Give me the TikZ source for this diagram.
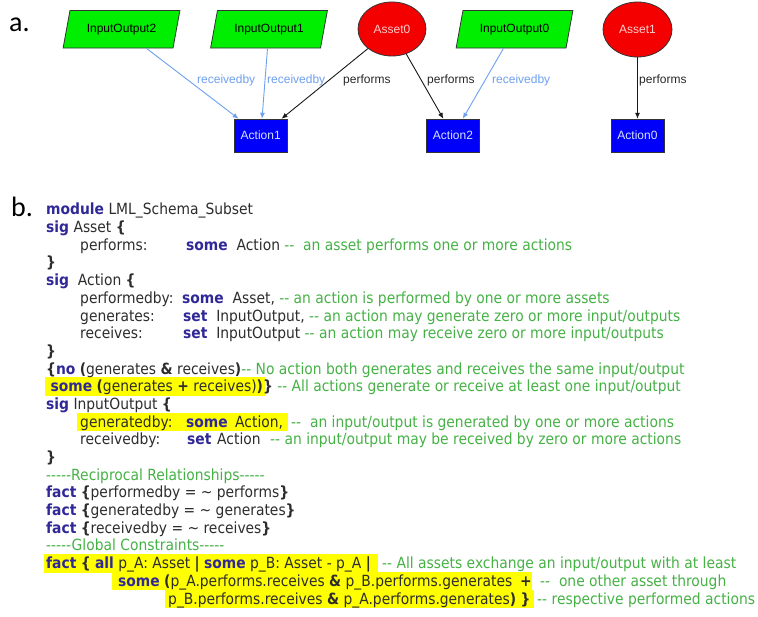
\documentclass[tikz,border=0pt]{standalone}
\usepackage{fontspec}
\setmainfont{DejaVu Sans}
\newfontfamily\codefont{DejaVu Sans}[FakeStretch=0.9]
\newfontfamily\graphfont{Liberation Sans}
\newfontfamily\labfont{Carlito}
\usetikzlibrary{shapes.geometric,arrows.meta}
\definecolor{kwc}{RGB}{48,40,150}
\definecolor{cmc}{RGB}{70,178,70}
\definecolor{idc}{RGB}{45,45,45}
\definecolor{hlc}{RGB}{255,255,0}
\definecolor{gfill}{RGB}{0,238,0}
\definecolor{rfill}{RGB}{245,0,0}
\definecolor{bfill}{RGB}{0,0,250}
\definecolor{recvc}{RGB}{110,160,240}
\definecolor{perfc}{RGB}{25,25,25}
\newcommand\kwd[1]{{\bfseries\color{kwc}#1}}
\newcommand\cmt[1]{{\color{cmc}#1}}
\newcommand\bsym[1]{{\bfseries #1}}
\tikzset{
  code/.style={anchor=base west, inner sep=0pt, text=idc, font=\codefont\fontsize{15.4pt}{17.7pt}\selectfont},
  hlbox/.style={fill=hlc, draw=none},
  iobox/.style={trapezium, trapezium left angle=67, trapezium right angle=113, trapezium stretches=true,
    minimum width=117pt, minimum height=37.5pt, inner sep=0pt, fill=gfill, draw=black!80, line width=0.8pt,
    font=\graphfont\fontsize{12pt}{14pt}\selectfont, text=black},
  assetbox/.style={ellipse, minimum width=68pt, minimum height=54pt, inner sep=0pt, fill=rfill, draw=black!80,
    line width=0.8pt, font=\graphfont\fontsize{12pt}{14pt}\selectfont, text={rgb,255:red,255;green,205;blue,205}},
  actbox/.style={rectangle, minimum width=53pt, minimum height=33pt, inner sep=0pt, fill=bfill, draw=black!80,
    line width=0.8pt, font=\graphfont\fontsize{12pt}{14pt}\selectfont, text={rgb,255:red,215;green,225;blue,255}},
  recv/.style={draw=recvc, line width=0.9pt, -{Latex[length=6pt,width=5pt]}},
  perf/.style={draw=perfc, line width=0.9pt, -{Latex[length=6pt,width=5pt]}},
  rlbl/.style={anchor=west, inner sep=0pt, text=recvc, font=\graphfont\fontsize{12pt}{14pt}\selectfont},
  plbl/.style={anchor=west, inner sep=0pt, text={rgb,255:red,40;green,40;blue,40}, font=\graphfont\fontsize{12pt}{14pt}\selectfont},
  partlbl/.style={anchor=base west, inner sep=0pt, font=\labfont\fontsize{28pt}{30pt}\selectfont}
}
\begin{document}
\begin{tikzpicture}[x=1pt,y=-1pt]
\useasboundingbox (0,0) rectangle (758,617);
\fill[white] (0,0) rectangle (758,617);
% ---------- part a ----------
\node[partlbl] (pa) at (9,32) {a.};
\node[iobox] (io2) at (121.5,29.3) {InputOutput2};
\node[iobox] (io1) at (269,29.3) {InputOutput1};
\node[assetbox] (as0) at (392,29) {Asset0};
\node[iobox] (io0) at (514.5,29.3) {InputOutput0};
\node[assetbox, minimum width=69pt, minimum height=55pt] (as1) at (637.5,29.5) {Asset1};
\node[actbox] (a1) at (260.7,135.7) {Action1};
\node[actbox] (a2) at (453,135.7) {Action2};
\node[actbox] (a0) at (637.5,135.7) {Action0};
\draw[recv] (io2) -- (a1);
\draw[recv] (io1) -- (a1);
\draw[perf] (as0) -- (a1);
\draw[perf] (as0) -- (a2);
\draw[recv] (io0) -- (a2);
\draw[perf] (as1) -- (a0);
\node[rlbl] (l1) at (197,80) {receivedby};
\node[rlbl] (l2) at (267,80) {receivedby};
\node[plbl] (l3) at (343,80) {performs};
\node[plbl] (l4) at (427,80) {performs};
\node[rlbl] (l5) at (492,80) {receivedby};
\node[plbl] (l6) at (639,80) {performs};
% ---------- part b ----------
\node[partlbl] (pb) at (11,217) {b.};
% highlights
\fill[hlbox] (45,377.3) rectangle (265,395.8);
\fill[hlbox] (77,412.7) rectangle (288,431.2);
\fill[hlbox] (44,554.1) rectangle (378,572.6);
\fill[hlbox] (112,571.8) rectangle (532,590.3);
\fill[hlbox] (165,589.5) rectangle (534,608.0);
% code lines
\node[code] (c0) at (46,215.0) {\kwd{module} LML\_Schema\_Subset};
\node[code] (c1) at (46,232.7) {\kwd{sig} Asset \bsym{\{}};
\node[code] (c2a) at (80,250.4) {performs:};
\node[code] (c2b) at (186,250.4) {\kwd{some}\ \ Action \cmt{--\ \ an asset performs one or more actions}};
\node[code] (c3) at (46,268.0) {\bsym{\}}};
\node[code] (c4) at (46,285.7) {\kwd{sig}\ \ Action \bsym{\{}};
\node[code] (c5a) at (80,303.4) {performedby:};
\node[code] (c5b) at (182,303.4) {\kwd{some}\ \ Asset, \cmt{-- an action is performed by one or more assets}};
\node[code] (c6a) at (80,321.1) {generates:};
\node[code] (c6b) at (183,321.1) {\kwd{set}\ \ InputOutput, \cmt{-- an action may generate zero or more input/outputs}};
\node[code] (c7a) at (80,338.8) {receives:};
\node[code] (c7b) at (183,338.8) {\kwd{set}\ \ InputOutput \cmt{-- an action may receive zero or more input/outputs}};
\node[code] (c8) at (46,356.4) {\bsym{\}}};
\node[code] (c9) at (46,374.1) {\bsym{\{}\kwd{no} \bsym{(}generates \bsym{\&} receives\bsym{)}\cmt{-- No action both generates and receives the same input/output}};
\node[code] (c10) at (46,391.8) {\ \kwd{some} \bsym{(}generates \bsym{+} receives)\bsym{)}\bsym{\}} \cmt{-- All actions generate or receive at least one input/output}};
\node[code] (c11) at (46,409.5) {\kwd{sig} InputOutput \bsym{\{}};
\node[code] (c12a) at (80,427.2) {generatedby:};
\node[code] (c12b) at (186,427.2) {\kwd{some}};
\node[code] (c12d) at (235,427.2) {Action,};
\node[code] (c12c) at (291,427.2) {\cmt{--\ \ an input/output is generated by one or more actions}};
\node[code] (c13a) at (80,444.8) {receivedby:};
\node[code] (c13b) at (187,444.8) {\kwd{set}};
\node[code] (c13d) at (217,444.8) {Action};
\node[code] (c13c) at (270,444.8) {\cmt{-- an input/output may be received by zero or more actions}};
\node[code] (c14) at (46,462.5) {\bsym{\}}};
\node[code] (c15) at (46,480.2) {\cmt{-----Reciprocal Relationships-----}};
\node[code] (c16) at (46,497.9) {\kwd{fact} \bsym{\{}performedby = \textasciitilde\ performs\bsym{\}}};
\node[code] (c17) at (46,515.6) {\kwd{fact} \bsym{\{}generatedby = \textasciitilde\ generates\bsym{\}}};
\node[code] (c18) at (46,533.2) {\kwd{fact} \bsym{\{}receivedby = \textasciitilde\ receives\bsym{\}}};
\node[code] (c19) at (46,550.9) {\cmt{-----Global Constraints-----}};
\node[code] (c20a) at (46,568.6) {\kwd{fact} \bsym{\{} \kwd{all} p\_A: Asset \bsym{|} \kwd{some} p\_B: Asset - p\_A \bsym{|}};
\node[code] (c20b) at (382,568.6) {\cmt{-- All assets exchange an input/output with at least}};
\node[code] (c21a) at (118,586.3) {\kwd{some} \bsym{(}p\_A.performs.receives \bsym{\&} p\_B.performs.generates};
\node[code] (c21b) at (520,586.3) {\bsym{+}};
\node[code] (c21c) at (540,586.3) {\cmt{--\ \ one other asset through}};
\node[code] (c22a) at (168,604.0) {p\_B.performs.receives \bsym{\&} p\_A.performs.generates\bsym{)} \bsym{\}}};
\node[code] (c22b) at (537,604.0) {\cmt{-- respective performed actions}};
\end{tikzpicture}
\end{document}
